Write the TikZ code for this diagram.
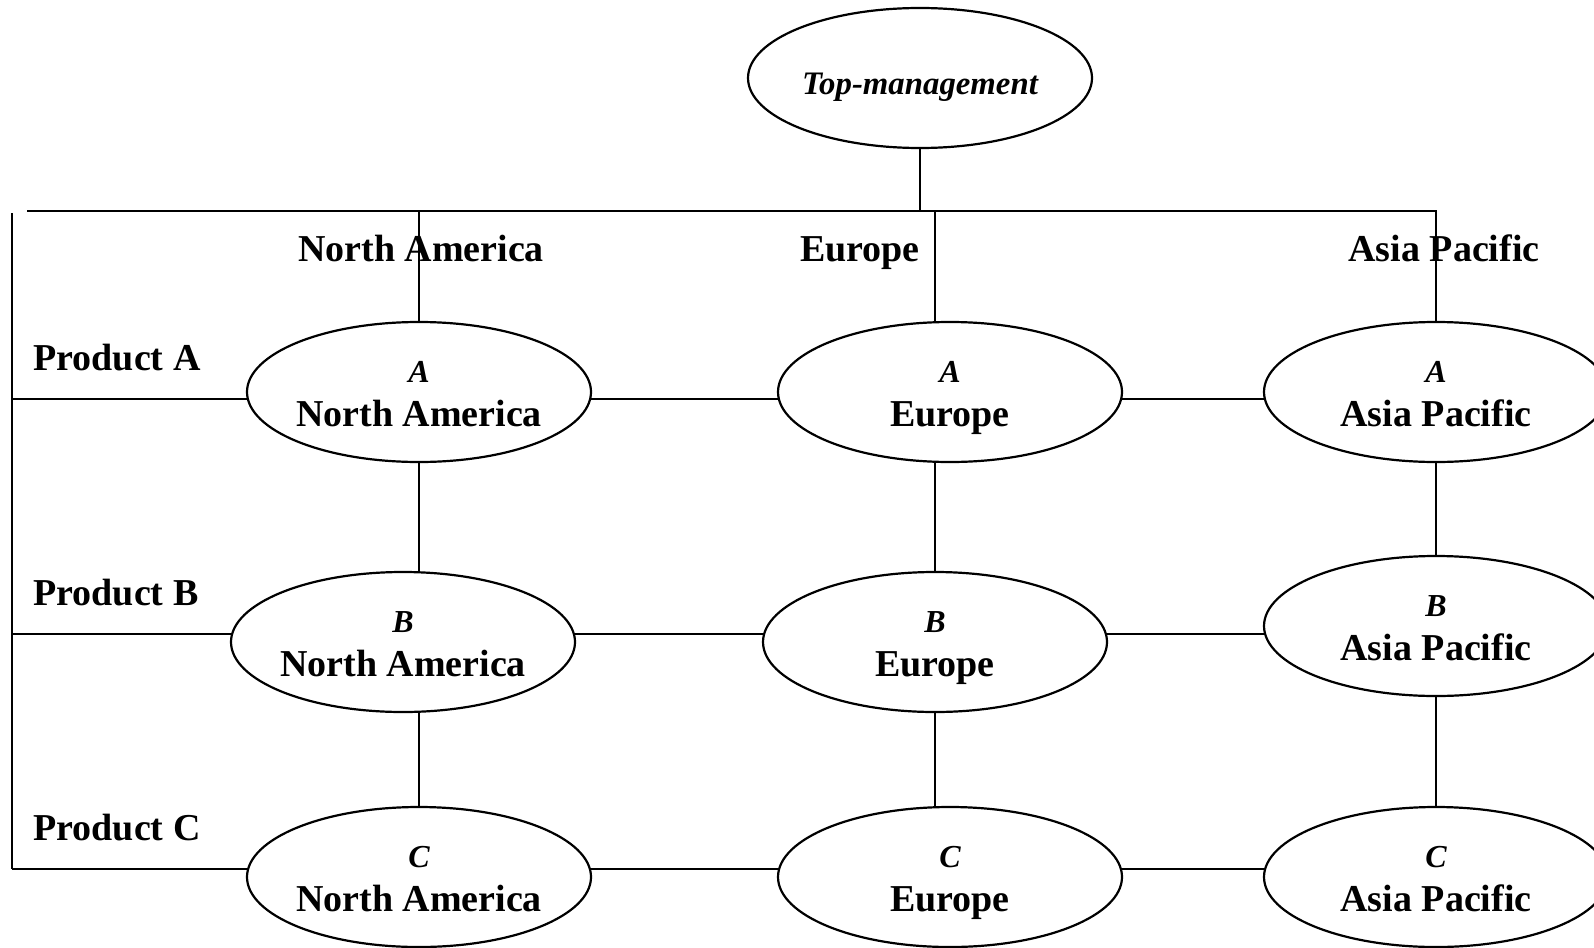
\documentclass[tikz,border=0pt]{standalone}
\usepackage{fontspec}
\setmainfont{Liberation Serif}
\usetikzlibrary{shapes.geometric}
\pgfdeclarelayer{background}
\pgfsetlayers{background,main}
% product letter (italic, smaller) over region name, with fixed line heights
\newcommand\celltext[2]{\rule{0pt}{13.3pt}{\fontsize{16}{19}\selectfont\itshape #1}\\[1pt]%
  \rule[-1.25pt]{0pt}{14.5pt}\smash{#2}}

\begin{document}
\begin{tikzpicture}[x=0.5pt,y=-0.5pt,
  unit/.style={ellipse, draw, line width=1.1pt, fill=white,
    minimum width=172pt, minimum height=70pt, inner sep=-3pt,
    align=center, font=\fontsize{19}{21}\selectfont\bfseries},
  head/.style={font=\fontsize{19}{21}\selectfont\bfseries, inner sep=0pt},
  link/.style={line width=1.1pt}]
\useasboundingbox (0,0) rectangle (1594,947);
\clip (0,0) rectangle (1594,947);

% top management
\node[unit, font=\fontsize{16.4}{19}\selectfont\bfseries\itshape] (tm) at (920,78)
  {\rule[-0.5pt]{0pt}{17.5pt}\smash{Top-management}};

% matrix cells
\node[unit] (aNA) at (419,392) {\celltext{A}{North America}};
\node[unit] (aEU) at (950,392) {\celltext{A}{Europe}};
\node[unit] (aAP) at (1436,392) {\celltext{A}{Asia Pacific}};
\node[unit] (bNA) at (403,642) {\celltext{B}{North America}};
\node[unit] (bEU) at (935,642) {\celltext{B}{Europe}};
\node[unit] (bAP) at (1436,626) {\celltext{B}{Asia Pacific}};
\node[unit] (cNA) at (419,877) {\celltext{C}{North America}};
\node[unit] (cEU) at (950,877) {\celltext{C}{Europe}};
\node[unit] (cAP) at (1436,877) {\celltext{C}{Asia Pacific}};

% column and row headings
\node[head, anchor=base] (hNA) at (421,261) {North America};
\node[head, anchor=base] (hEU) at (860,261) {Europe};
\node[head, anchor=base] (hAP) at (1444,261) {Asia Pacific};
\node[head, anchor=base west] (pA) at (33,370) {Product A};
\node[head, anchor=base west] (pB) at (33,605) {Product B};
\node[head, anchor=base west] (pC) at (33,840) {Product C};

% line ends
\coordinate (topL) at (27,211);
\coordinate (topR) at (1437,211);
\coordinate (leftT) at (12,213);
\coordinate (colNA) at (419,211);
\coordinate (colEU) at (935,211);
\coordinate (colAP) at (1436,211);
\coordinate (rowA) at (12,399);
\coordinate (rowB) at (12,634);
\coordinate (rowC) at (12,869);

\begin{pgfonlayer}{background}
  % hierarchy lines
  \draw[link] (tm) -- (tm |- topL);
  \draw[link] (topL) -- (topR);
  \draw[link] (leftT) -- (rowC);
  % regional columns
  \draw[link] (colNA) -- (colNA |- aNA);
  \draw[link] (colNA |- aNA) -- (colNA |- bNA);
  \draw[link] (colNA |- bNA) -- (colNA |- cNA);
  \draw[link] (colEU) -- (colEU |- aEU);
  \draw[link] (colEU |- aEU) -- (colEU |- bEU);
  \draw[link] (colEU |- bEU) -- (colEU |- cEU);
  \draw[link] (colAP) -- (colAP |- aAP);
  \draw[link] (colAP |- aAP) -- (colAP |- bAP);
  \draw[link] (colAP |- bAP) -- (colAP |- cAP);
  % product rows
  \draw[link] (rowA) -- (rowA -| aNA);
  \draw[link] (rowA -| aNA) -- (rowA -| aEU);
  \draw[link] (rowA -| aEU) -- (rowA -| aAP);
  \draw[link] (rowB) -- (rowB -| bNA);
  \draw[link] (rowB -| bNA) -- (rowB -| bEU);
  \draw[link] (rowB -| bEU) -- (rowB -| bAP);
  \draw[link] (rowC) -- (rowC -| cNA);
  \draw[link] (rowC -| cNA) -- (rowC -| cEU);
  \draw[link] (rowC -| cEU) -- (rowC -| cAP);
\end{pgfonlayer}
\end{tikzpicture}
\end{document}
